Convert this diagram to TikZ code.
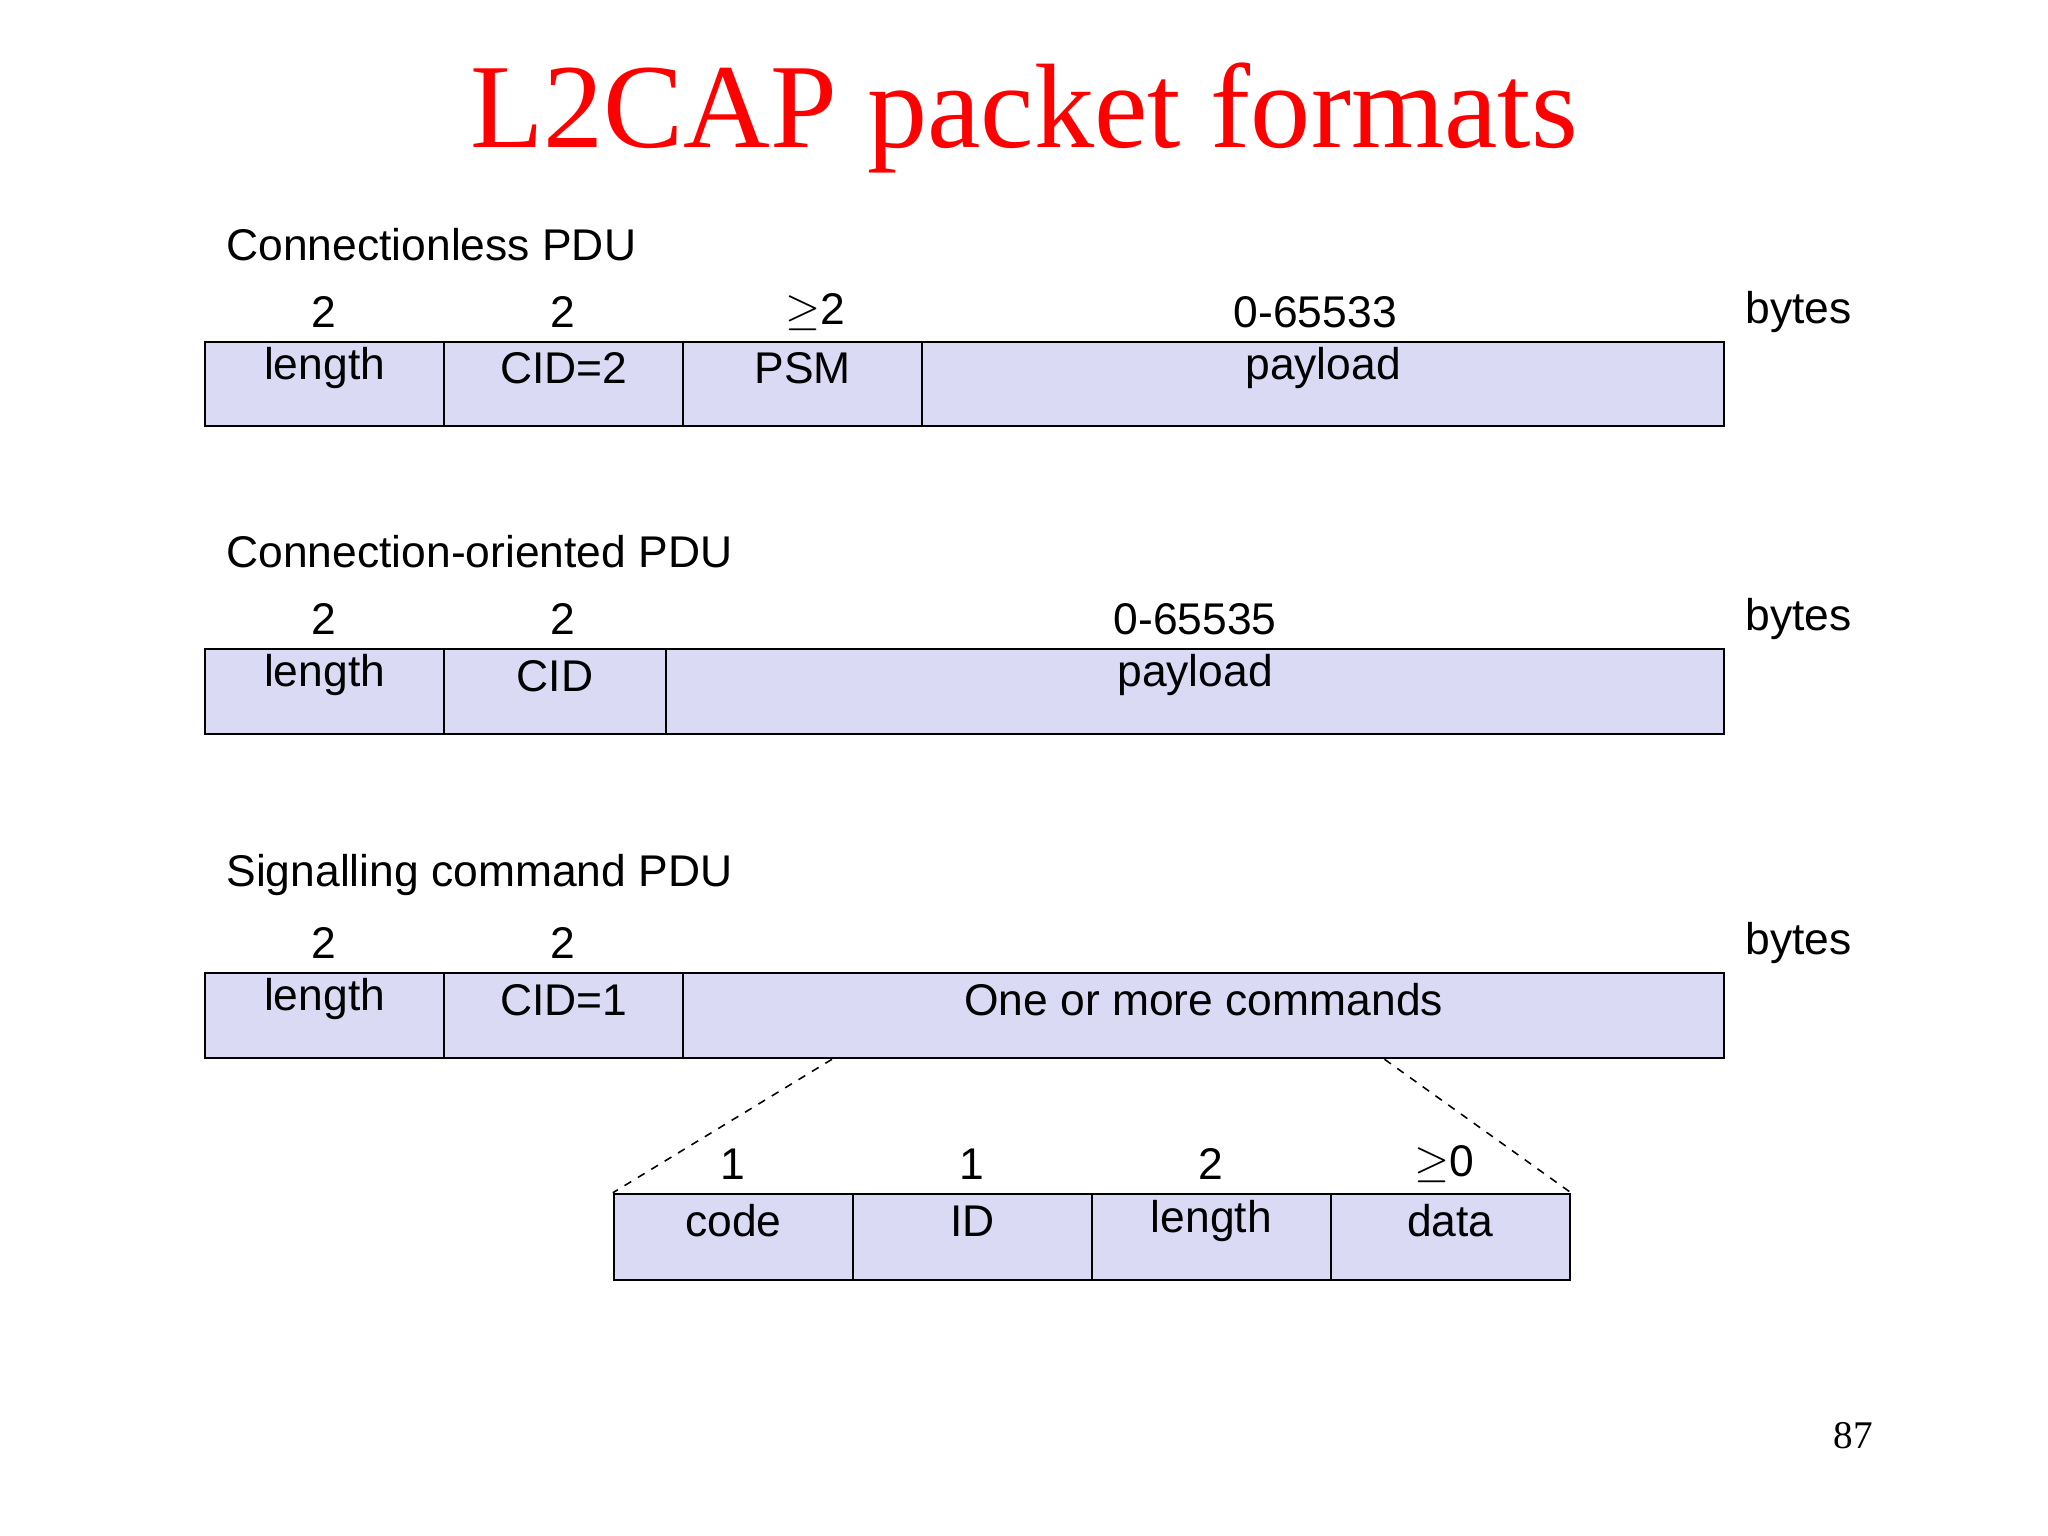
\documentclass[tikz,border=0pt]{standalone}
\usepackage{fontspec}
\setmainfont{Liberation Sans}
\newfontfamily\serif{Liberation Serif}
\usetikzlibrary{fit}
\definecolor{cellfill}{HTML}{DADAF5}
\begin{document}
\begin{tikzpicture}[x=0.5pt,y=-0.5pt,
  cell/.style={draw=black,line width=0.8pt,fill=cellfill,inner sep=0pt,font=\fontsize{17}{20}\selectfont},
  lab/.style={font=\fontsize{17}{20}\selectfont,inner sep=0pt},
  hd/.style={lab,anchor=west}]
\useasboundingbox (0,0) rectangle (1568,1176);
\node[font=\serif\fontsize{46}{50}\selectfont,text=red] (title) at (784,90) {L2CAP packet formats};
% row 1
\node[hd] (h1) at (173,187) {Connectionless PDU};
\node[cell,fit={(157,262)(340,326)}] (a1) {length};
\node[cell,fit={(340,262)(523,326)}] (a2) {CID=2};
\node[cell,fit={(523,262)(706,326)}] (a3) {PSM};
\node[cell,fit={(706,262)(1320,326)}] (a4) {payload};
\node[lab] (n11) at (248,239) {2};
\node[lab] (n12) at (431,239) {2};
\node[lab] (n13) at (624,239) {$\geq$2};
\node[lab] (n14) at (1007,239) {0-65533};
\node[lab] (b1) at (1377,239) {bytes};
% row 2
\node[hd] (h2) at (173,422) {Connection-oriented PDU};
\node[cell,fit={(157,497)(340,562)}] (c1) {length};
\node[cell,fit={(340,497)(510,562)}] (c2) {CID};
\node[cell,fit={(510,497)(1320,562)}] (c3) {payload};
\node[lab] (n21) at (248,474) {2};
\node[lab] (n22) at (431,474) {2};
\node[lab] (n23) at (915,474) {0-65535};
\node[lab] (b2) at (1377,474) {bytes};
% row 3
\node[hd] (h3) at (173,670) {Signalling command PDU};
\node[cell,fit={(157,745)(340,810)}] (d1) {length};
\node[cell,fit={(340,745)(523,810)}] (d2) {CID=1};
\node[cell,fit={(523,745)(1320,810)}] (d3) {One or more commands};
\node[lab] (n31) at (248,722) {2};
\node[lab] (n32) at (431,722) {2};
\node[lab] (b3) at (1377,722) {bytes};
% sub
\node[cell,fit={(470,914)(653,980)}] (e1) {code};
\node[cell,fit={(653,914)(836,980)}] (e2) {ID};
\node[cell,fit={(836,914)(1019,980)}] (e3) {length};
\node[cell,fit={(1019,914)(1202,980)}] (e4) {data};
\node[lab] (n41) at (561,891) {1};
\node[lab] (n42) at (744,891) {1};
\node[lab] (n43) at (927,891) {2};
\node[lab] (n44) at (1106,891) {$\geq$0};
\coordinate (p1) at (637,811);
\coordinate (p2) at (1060,811);
\draw[dashed,line width=0.6pt] (p1) -- (e1.north west);
\draw[dashed,line width=0.6pt] (p2) -- (e4.north east);
\node[font=\serif\fontsize{15}{18}\selectfont] (pg) at (1419,1099) {87};
\end{tikzpicture}
\end{document}
